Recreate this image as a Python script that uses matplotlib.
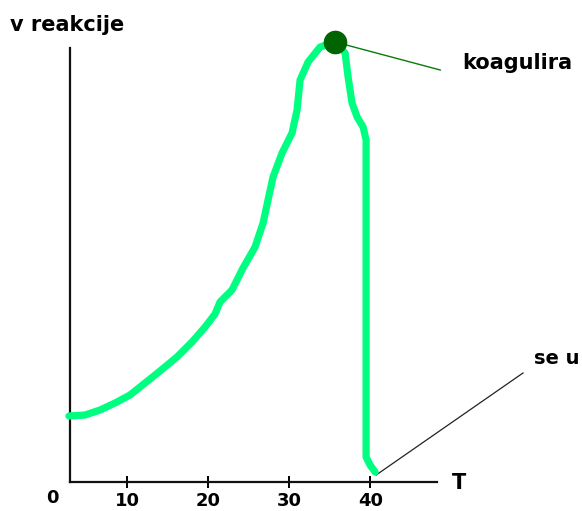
import matplotlib
matplotlib.use("Agg")
import matplotlib.pyplot as plt

# Curve (T, v) (v in arbitrary units)
T_vals = [2.84, 4.81, 6.66, 8.51, 10.36, 12.21, 14.06, 16.15, 18.00, 19.61, 20.84,
          21.45, 22.93, 24.29, 25.77, 26.76, 27.37, 27.99, 29.10, 30.33, 30.95,
          31.32, 32.31, 33.79, 35.63, 36.87, 37.24, 37.73, 38.35, 39.09, 39.46,
          39.46, 39.46, 39.95, 40.57]
v_vals = [6.6, 6.7, 7.2, 7.9, 8.7, 9.9, 11.1, 12.5, 14.0, 15.5, 16.8,
          18.0, 19.2, 21.4, 23.5, 25.9, 28.2, 30.5, 32.9, 34.9, 37.2,
          40.2, 42.0, 43.5, 44.0, 42.9, 40.5, 37.9, 36.5, 35.5, 34.2,
          18.2, 2.5, 1.7, 1.0]
peak_T, peak_v = 35.63, 44.0
koag_end = (48.6, 41.2)
uni_start = (40.7, 0.7)
uni_end = (58.8, 10.9)
x_ticks = [10, 20, 30, 40]
x_tick_labels = ["10", "20", "30", "40"]

W, H = 582, 511
fig = plt.figure(figsize=(W / 100, H / 100), dpi=100)
ax = fig.add_axes([70 / W, (H - 482) / H, (437 - 70) / W, (482 - 48) / H])
ax.set_xlim(2.96, 48.2)
ax.set_ylim(0, 43.4)

for s in ["top", "right"]:
    ax.spines[s].set_visible(False)
for s in ["left", "bottom"]:
    ax.spines[s].set_linewidth(1.6)
    ax.spines[s].set_color("#111111")

ax.set_yticks([])
ax.set_xticks(x_ticks)
ax.set_xticklabels(x_tick_labels, fontsize=13, fontweight="bold")
ax.tick_params(axis="x", direction="inout", length=8, width=1.4, pad=3)

ax.plot(T_vals, v_vals, color="#00ff80", lw=5.2, solid_capstyle="round",
        solid_joinstyle="round", clip_on=False, zorder=3)
ax.plot([peak_T, koag_end[0]], [peak_v, koag_end[1]], color="#0a7a0a", lw=1.0,
        clip_on=False, zorder=2)
ax.plot([peak_T], [peak_v], "o", color="#006400", markersize=16, clip_on=False, zorder=4)
ax.plot([uni_start[0], uni_end[0]], [uni_start[1], uni_end[1]], color="#222222", lw=0.9,
        clip_on=False, zorder=2)

fig.text(10 / W, 1 - 25 / H, "v reakcije", fontsize=15, fontweight="bold", va="center", ha="left")
fig.text(462 / W, 1 - 63 / H, "koagulira", fontsize=15, fontweight="bold", va="center", ha="left")
fig.text(534 / W, 1 - 358 / H, "se u", fontsize=14, fontweight="bold", va="center", ha="left")
fig.text(452 / W, 1 - 483 / H, "T", fontsize=15, fontweight="bold", va="center", ha="left")
fig.text(52 / W, 1 - 498 / H, "0", fontsize=13, fontweight="bold", va="center", ha="center")

fig.savefig("out.png", dpi=100)
